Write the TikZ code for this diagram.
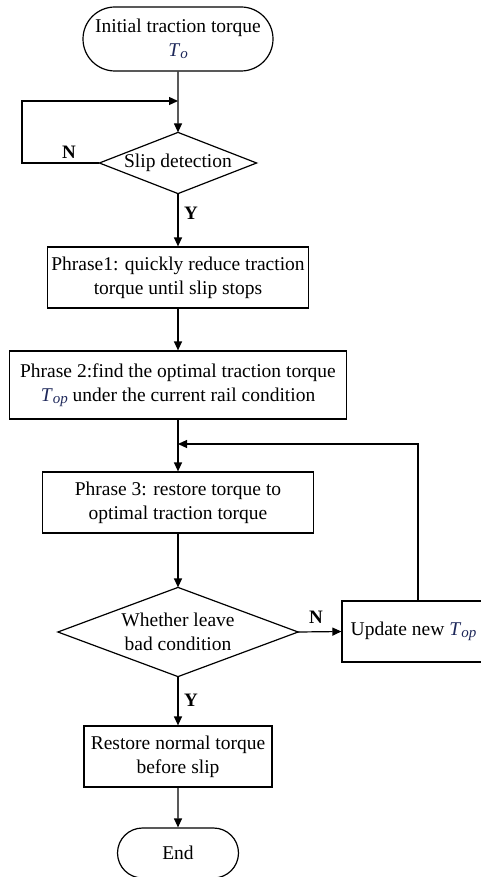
\documentclass[tikz,border=0pt]{standalone}
\usepackage{fontspec}
\setmainfont{Liberation Serif}
\usetikzlibrary{arrows.meta,shapes.misc}
\definecolor{symblue}{RGB}{30,40,90}
\newcommand{\sym}[2]{{\color{symblue}\textit{#1}\raisebox{-0.25ex}{\fontsize{15}{15}\selectfont\textit{#2}}}}
\begin{document}
\begin{tikzpicture}[x=1pt,y=-1pt,
  every node/.style={font=\fontsize{19.5}{24}\selectfont, align=center, line width=1.2pt},
  flow/.style={line width=1.2pt, -{Triangle[length=9pt,width=8pt]}},
  procbox/.style={draw, rectangle, inner sep=0pt},
  termbox/.style={draw, rounded rectangle, inner sep=0pt},
  decide/.style={rectangle, inner sep=0pt},
  lab/.style={font=\fontsize{19}{24}\selectfont\bfseries}]
\useasboundingbox (0,0) rectangle (481,877);
\clip (0,0) rectangle (481,877);

% nodes
\node[termbox, minimum width=190pt, minimum height=64pt] (start) at (178,39)
  {Initial traction torque\\ \sym{T}{o}};
\node[decide, minimum width=156pt, minimum height=60pt] (slip) at (178,163) {Slip detection};
\node[procbox, minimum width=261pt, minimum height=61pt] (ph1) at (178,277.5)
  {Phrase1: quickly reduce traction\\ torque until slip stops};
\node[procbox, minimum width=337pt, minimum height=68pt] (ph2) at (178,385)
  {Phrase 2:find the optimal traction torque\\ \sym{T}{op} under the current rail condition};
\node[procbox, minimum width=271pt, minimum height=61pt] (ph3) at (178,502.5)
  {Phrase 3: restore torque to\\ optimal traction torque};
\node[decide, minimum width=239pt, minimum height=88pt] (leave) at (178,632)
  {Whether leave\\ bad condition};
\node[procbox, minimum width=143pt, minimum height=61pt] (upd) at (413.5,631.5)
  {Update new \sym{T}{op}};
\node[procbox, minimum width=188pt, minimum height=61pt] (rest) at (178,756.5)
  {Restore normal torque\\ before slip};
\node[termbox, minimum width=121pt, minimum height=50pt] (fin) at (178,853) {End};

% decision outlines
\foreach \d in {slip,leave}
  \draw[line width=1.2pt] (\d.north) -- (\d.east) -- (\d.south) -- (\d.west) -- cycle;

% junction points
\coordinate (loopin) at (178,101);
\coordinate (merge) at (178,444);
\coordinate (upcorner) at (418,444);

% connectors
\draw[flow] (start) -- (slip.north);
\draw[flow] (slip.west) -- (22,163) |- (loopin);
\draw[flow] (slip.south) -- (ph1);
\draw[flow] (ph1) -- (ph2);
\draw[flow] (ph2) -- (ph3);
\draw[flow] (ph3) -- (leave.north);
\draw[flow] (leave.east) -- (upd.west);
\draw[flow] (upd.north -| upcorner) -- (upcorner) -- (merge);
\draw[flow] (leave.south) -- (rest);
\draw[flow] (rest) -- (fin);

% branch labels
\node[lab] (n1) at (69,152) {N};
\node[lab] (y1) at (191,213) {Y};
\node[lab] (n2) at (316,617) {N};
\node[lab] (y2) at (191,700) {Y};
\end{tikzpicture}
\end{document}
